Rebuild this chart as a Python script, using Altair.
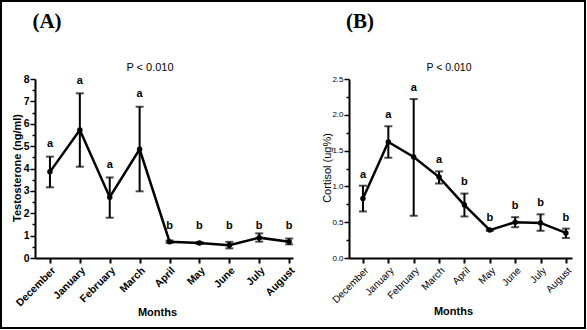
import altair as alt
import pandas as pd

months = ["December", "January", "February", "March", "April", "May", "June", "July", "August"]

testo_mean = [3.85, 5.72, 2.72, 4.86, 0.73, 0.67, 0.57, 0.91, 0.73]
testo_lo = [3.16, 4.08, 1.80, 2.98, 0.68, 0.63, 0.43, 0.73, 0.61]
testo_hi = [4.53, 7.36, 3.60, 6.76, 0.78, 0.71, 0.72, 1.10, 0.87]
testo_letters = ["a", "a", "a", "a", "b", "b", "b", "b", "b"]

cort_mean = [0.83, 1.62, 1.41, 1.13, 0.74, 0.39, 0.50, 0.49, 0.35]
cort_lo = [0.65, 1.40, 0.59, 1.04, 0.58, 0.38, 0.43, 0.38, 0.28]
cort_hi = [1.01, 1.84, 2.22, 1.21, 0.90, 0.40, 0.57, 0.61, 0.41]
cort_letters = ["a", "a", "a", "a", "b", "b", "b", "b", "b"]

panel_tags = ["(A)", "(B)"]
p_text = "P < 0.010"
y_titles = ["Testosterone (ng/ml)", "Cortisol (ug%)"]
x_title = "Months"

SANS = "Liberation Sans"
SERIF = "Liberation Serif"
month_expr = "[" + ",".join("'%s'" % m for m in months) + "][datum.value]"


def frame_df(mean, lo, hi, letters):
    return pd.DataFrame({
        "idx": list(range(len(months))),
        "month": months,
        "mean": mean,
        "lo": lo,
        "hi": hi,
        "letter": letters,
    })


def panel(df, width, height, xdom, ydom, ystep, yminor, label_fmt, lab_y,
          ytitle, ytitle_x, xtitle_x, xtitle_y, tag, tag_x, p_x,
          tick_weight, tick_size, xlab_size, title_weight, title_size,
          p_size, letter_weight, with_frame=False):
    df = df.copy()
    df["lab_y"] = lab_y
    n_minor = int(round((ydom[1] - ydom[0]) / yminor))
    ymajor = [round(ydom[0] + i * ystep, 4) for i in range(int(round((ydom[1] - ydom[0]) / ystep)) + 1)]
    yminor_vals = [round(ydom[0] + i * yminor, 4) for i in range(n_minor + 1)]
    yminor_vals = [v for v in yminor_vals if v not in ymajor]

    x_axis = alt.Axis(values=list(range(len(months))), labelExpr=month_expr,
                      labelAngle=-45, labelAlign="right", labelBaseline="top",
                      labelFont=SANS, labelFontSize=xlab_size,
                      labelFontWeight=tick_weight, labelColor="black",
                      labelPadding=2, labelOverlap=False, labelBound=False, labelFlush=False,
                      tickSize=5, tickWidth=2, tickColor="black",
                      domainColor="black", domainWidth=2, grid=False,
                      title=x_title, titleFont=SANS, titleFontWeight="bold",
                      titleFontSize=11, titleColor="black",
                      titleX=xtitle_x, titleY=xtitle_y, titleAlign="center",
                      titleBaseline="middle")
    y_axis = alt.Axis(values=ymajor, format=label_fmt,
                      labelFont=SANS, labelFontSize=tick_size, labelFontWeight=tick_weight,
                      labelColor="black", labelPadding=1, labelOverlap=False, labelBound=False,
                      labelFlush=False,
                      tickSize=5, tickWidth=1.5, tickColor="black",
                      domainColor="black", domainWidth=2, grid=False,
                      title=ytitle, titleFont=SANS, titleFontWeight=title_weight,
                      titleFontSize=title_size, titleColor="black",
                      titleAngle=-90, titleX=ytitle_x, titleY=height / 2 - 1,
                      titleAlign="center", titleBaseline="middle")
    y_minor_axis = alt.Axis(values=yminor_vals, labels=False, domain=False, grid=False,
                            tickSize=3, tickWidth=1.5, tickColor="black", title=None,
                            orient="left")
    x_scale = alt.Scale(domain=xdom, nice=False, zero=False)
    y_scale = alt.Scale(domain=ydom, nice=False, zero=False)

    base = alt.Chart(df)
    X = alt.X("idx:Q", scale=x_scale, axis=x_axis)
    rules = base.mark_rule(color="black", strokeWidth=2).encode(
        x=X, y=alt.Y("lo:Q", scale=y_scale, axis=y_axis), y2="hi:Q")
    caps_hi = base.mark_tick(color="black", orient="horizontal", size=8, thickness=2).encode(
        x=X, y=alt.Y("hi:Q", scale=y_scale, axis=y_axis))
    caps_lo = base.mark_tick(color="black", orient="horizontal", size=8, thickness=2).encode(
        x=X, y=alt.Y("lo:Q", scale=y_scale, axis=y_axis))
    line = base.mark_line(color="black", strokeWidth=2.5).encode(
        x=X, y=alt.Y("mean:Q", scale=y_scale, axis=y_axis))
    pts = base.mark_point(filled=True, color="black", size=30, opacity=1).encode(
        x=X, y=alt.Y("mean:Q", scale=y_scale, axis=y_axis))
    letters = base.mark_text(font=SANS, fontSize=11, fontWeight=letter_weight,
                             color="black", baseline="middle").encode(
        x=X, y=alt.Y("lab_y:Q", scale=y_scale, axis=y_axis), text="letter:N")
    main = alt.layer(rules, caps_hi, caps_lo, line, pts, letters)

    minor = base.mark_point(opacity=0).encode(
        x=X, y=alt.Y("mean:Q", scale=y_scale, axis=y_minor_axis))

    one = pd.DataFrame({"k": [0]})
    tag_t = alt.Chart(one).mark_text(text=tag, font=SERIF, fontSize=21, fontWeight="bold",
                                     color="black", baseline="middle", align="center").encode(
        x=alt.value(tag_x), y=alt.value(-57))
    p_t = alt.Chart(one).mark_text(text=p_text, font=SANS, fontSize=p_size,
                                   color="black", baseline="middle", align="center").encode(
        x=alt.value(p_x), y=alt.value(-11))
    layers = [main, minor, tag_t, p_t]
    if with_frame:
        fr = alt.Chart(one).mark_rect(filled=False, stroke="black", strokeWidth=2).encode(
            x=alt.value(-34), x2=alt.value(550), y=alt.value(-78), y2=alt.value(249))
        layers = [fr] + layers
    return alt.layer(*layers).resolve_axis(y="independent").properties(width=width, height=height)


dfA = frame_df(testo_mean, testo_lo, testo_hi, testo_letters)
dfB = frame_df(cort_mean, cort_lo, cort_hi, cort_letters)

labA = [h + 0.56 if l == "a" else 1.44 for h, l in zip(testo_hi, testo_letters)]
labB = [h + 0.155 for h in cort_hi]

A = panel(dfA, 258, 179, [-0.5, 8.13], [0, 8], 1, 0.5, "d", labA,
          y_titles[0], -18, 122, 54, panel_tags[0], 12, 115,
          "bold", 10.5, 10.5, "bold", 11, 11, "bold", with_frame=True)
B = panel(dfB, 223, 179, [-0.55, 8.24], [0, 2.5], 0.5, 0.25, ".1f", labB,
          y_titles[1], -22, 104, 53, panel_tags[1], 11, 100,
          "normal", 8, 10, "normal", 11, 10.5, "bold")

chart = alt.hconcat(A, B, spacing=56, bounds="flush").properties(
    padding=0, background="white"
).configure_view(stroke=None).configure_axis(labelOverlap=False)

chart.save("out.html", embed_options={"renderer": "svg", "actions": False})
